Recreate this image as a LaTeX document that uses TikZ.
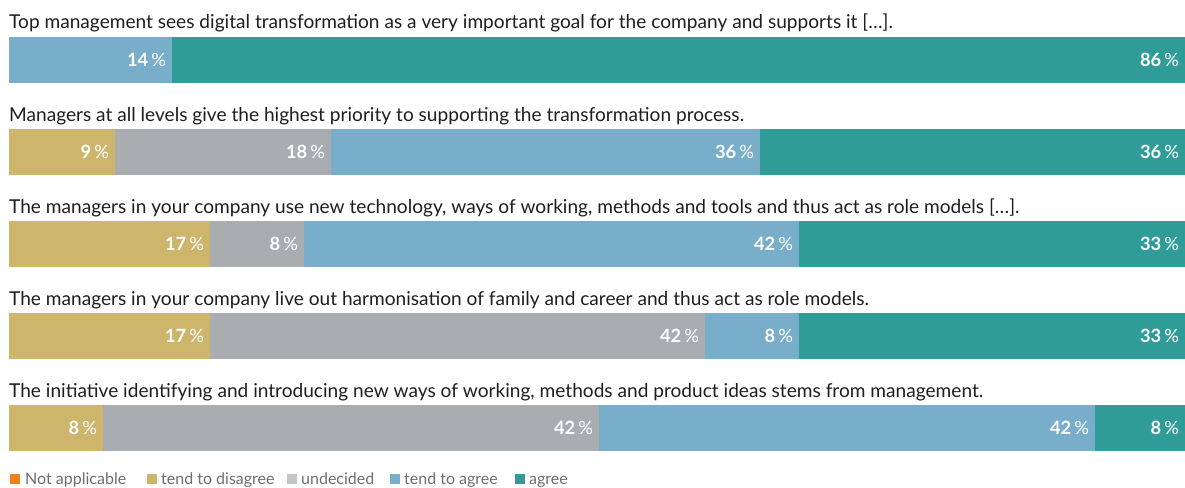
\documentclass[tikz,border=0pt]{standalone}
\usepackage{fontspec}
\setmainfont{Lato}
\usetikzlibrary{positioning}
\definecolor{DisagreeGold}{HTML}{CDB56C}
\definecolor{UndecidedGray}{HTML}{A9ADAF}
\definecolor{AgreeBlue}{HTML}{78AECA}
\definecolor{AgreeTeal}{HTML}{2F9C97}
\definecolor{NotApplicable}{HTML}{F08020}
\definecolor{TitleText}{HTML}{1E1E1E}
\definecolor{LegendText}{HTML}{6E6E6E}
\newcommand{\pct}[1]{\textbf{#1}\,\%}

\begin{document}
\begin{tikzpicture}[x=1pt, y=-1pt]
        \tikzset{
            question/.style={anchor=base west, inner sep=0pt, text=TitleText, font=\fontsize{19.1}{22}\selectfont},
            seg/.style={anchor=north west, inner xsep=6pt, inner ysep=0pt, outer sep=0pt, minimum height=45.5pt, align=right, text=white, line width=0.6pt, font=\fontsize{18.3}{20}\selectfont},
            key_box/.style={rectangle, minimum size=10pt, inner sep=0pt, outer sep=0pt, anchor=south west},
            key_text/.style={inner sep=0pt, anchor=base west, text=LegendText, font=\fontsize{16}{18}\selectfont}
        }
        \useasboundingbox (0,0) rectangle (1185,487);

        % question 1
        \node[question] (q1) at (9,29) {Top management sees digital transformation as a very important goal for the company and supports it […].};
        \node[seg, fill=AgreeBlue, draw=AgreeBlue, text width=151pt] (b1a) at (9,37) {\pct{14}};
        \node[seg, fill=AgreeTeal, draw=AgreeTeal, text width=1001pt] (b1b) at (b1a.north east) {\pct{86}};

        % question 2
        \node[question] (q2) at (9,121) {Managers at all levels give the highest priority to supporting the transformation process.};
        \node[seg, fill=DisagreeGold, draw=DisagreeGold, text width=94pt] (b2a) at (9,129) {\pct{9}};
        \node[seg, fill=UndecidedGray, draw=UndecidedGray, text width=204pt] (b2b) at (b2a.north east) {\pct{18}};
        \node[seg, fill=AgreeBlue, draw=AgreeBlue, text width=417pt] (b2c) at (b2b.north east) {\pct{36}};
        \node[seg, fill=AgreeTeal, draw=AgreeTeal, text width=413pt] (b2d) at (b2c.north east) {\pct{36}};

        % question 3
        \node[question] (q3) at (9,213) {The managers in your company use new technology, ways of working, methods and tools and thus act as role models […].};
        \node[seg, fill=DisagreeGold, draw=DisagreeGold, text width=189pt] (b3a) at (9,221) {\pct{17}};
        \node[seg, fill=UndecidedGray, draw=UndecidedGray, text width=82pt] (b3b) at (b3a.north east) {\pct{8}};
        \node[seg, fill=AgreeBlue, draw=AgreeBlue, text width=483pt] (b3c) at (b3b.north east) {\pct{42}};
        \node[seg, fill=AgreeTeal, draw=AgreeTeal, text width=374pt] (b3d) at (b3c.north east) {\pct{33}};

        % question 4
        \node[question] (q4) at (9,305) {The managers in your company live out harmonisation of family and career and thus act as role models.};
        \node[seg, fill=DisagreeGold, draw=DisagreeGold, text width=189pt] (b4a) at (9,313) {\pct{17}};
        \node[seg, fill=UndecidedGray, draw=UndecidedGray, text width=483pt] (b4b) at (b4a.north east) {\pct{42}};
        \node[seg, fill=AgreeBlue, draw=AgreeBlue, text width=82pt] (b4c) at (b4b.north east) {\pct{8}};
        \node[seg, fill=AgreeTeal, draw=AgreeTeal, text width=374pt] (b4d) at (b4c.north east) {\pct{33}};

        % question 5
        \node[question] (q5) at (9,397) {The initiative identifying and introducing new ways of working, methods and product ideas stems from management.};
        \node[seg, fill=DisagreeGold, draw=DisagreeGold, text width=82pt] (b5a) at (9,405) {\pct{8}};
        \node[seg, fill=UndecidedGray, draw=UndecidedGray, text width=484pt] (b5b) at (b5a.north east) {\pct{42}};
        \node[seg, fill=AgreeBlue, draw=AgreeBlue, text width=484pt] (b5c) at (b5b.north east) {\pct{42}};
        \node[seg, fill=AgreeTeal, draw=AgreeTeal, text width=78pt] (b5d) at (b5c.north east) {\pct{8}};

        % legend
        \node[key_box, fill=NotApplicable] (k1) at (10,484) {};
        \node[key_text, right=5pt of k1.south east, anchor=base west] (t1) {Not applicable};
        \node[key_box, fill=DisagreeGold] (k2) at (147,484) {};
        \node[key_text, right=4pt of k2.south east, anchor=base west] (t2) {tend to disagree};
        \node[key_box, fill=UndecidedGray!70] (k3) at (287,484) {};
        \node[key_text, right=4pt of k3.south east, anchor=base west] (t3) {undecided};
        \node[key_box, fill=AgreeBlue] (k4) at (390,484) {};
        \node[key_text, right=4pt of k4.south east, anchor=base west] (t4) {tend to agree};
        \node[key_box, fill=AgreeTeal] (k5) at (515,484) {};
        \node[key_text, right=4pt of k5.south east, anchor=base west] (t5) {agree};

    \end{tikzpicture}
\end{document}
